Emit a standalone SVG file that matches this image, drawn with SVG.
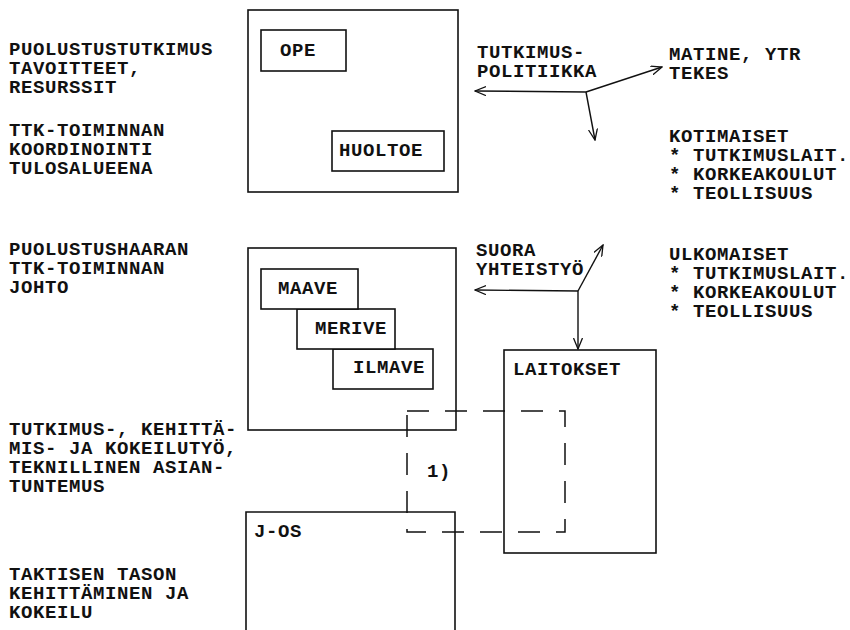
<svg xmlns="http://www.w3.org/2000/svg" width="850" height="630" viewBox="0 0 850 630">
<defs>
<style>
text{font-family:"Liberation Mono","Courier New",monospace;font-weight:bold;font-size:19px;letter-spacing:0.6px;fill:#111}
.box{fill:none;stroke:#111;stroke-width:1.6}
.wbox{fill:#fff;stroke:#111;stroke-width:1.6}
.con{fill:none;stroke:#111;stroke-width:1.4}
.dash{fill:none;stroke:#111;stroke-width:1.5;stroke-dasharray:22 16}
</style>
<marker id="ah" viewBox="0 0 12 10" refX="11" refY="5" markerWidth="12" markerHeight="10" markerUnits="userSpaceOnUse" orient="auto">
<path d="M0,0.5 L11,5 L0,9.5" fill="none" stroke="#111" stroke-width="1.3"/>
</marker>
</defs>
<rect width="850" height="630" fill="#fff"/>

<g id="labels-left">
<text x="9" y="55">PUOLUSTUSTUTKIMUS</text>
<text x="9" y="74">TAVOITTEET,</text>
<text x="9" y="93">RESURSSIT</text>
<text x="9" y="136">TTK-TOIMINNAN</text>
<text x="9" y="155">KOORDINOINTI</text>
<text x="9" y="174">TULOSALUEENA</text>
<text x="9" y="255">PUOLUSTUSHAARAN</text>
<text x="9" y="274">TTK-TOIMINNAN</text>
<text x="9" y="293">JOHTO</text>
<text x="9" y="435">TUTKIMUS-, KEHITTÄ-</text>
<text x="9" y="454">MIS- JA KOKEILUTYÖ,</text>
<text x="9" y="473">TEKNILLINEN ASIAN-</text>
<text x="9" y="492">TUNTEMUS</text>
<text x="9" y="580">TAKTISEN TASON</text>
<text x="9" y="599">KEHITTÄMINEN JA</text>
<text x="9" y="618">KOKEILU</text>
</g>

<g id="labels-right">
<text x="669" y="60">MATINE, YTR</text>
<text x="669" y="79">TEKES</text>
<text x="669" y="142">KOTIMAISET</text>
<text x="669" y="161">* TUTKIMUSLAIT.</text>
<text x="669" y="180">* KORKEAKOULUT</text>
<text x="669" y="199">* TEOLLISUUS</text>
<text x="669" y="260">ULKOMAISET</text>
<text x="669" y="279">* TUTKIMUSLAIT.</text>
<text x="669" y="298">* KORKEAKOULUT</text>
<text x="669" y="317">* TEOLLISUUS</text>
<text x="477" y="58">TUTKIMUS-</text>
<text x="477" y="77">POLITIIKKA</text>
<text x="476" y="256">SUORA</text>
<text x="476" y="275">YHTEISTYÖ</text>
</g>

<g id="pe">
<rect class="box" x="248" y="10" width="210" height="182"/>
</g>
<g id="ope">
<rect class="box" x="261" y="30" width="85" height="41"/>
<text x="280" y="56">OPE</text>
</g>
<g id="huoltoe">
<rect class="box" x="332" y="131" width="112" height="40"/>
<text x="339" y="156">HUOLTOE</text>
</g>

<g id="puolustushaara">
<rect class="box" x="248" y="248" width="208" height="182"/>
</g>
<g id="ilmave">
<rect class="wbox" x="333" y="349" width="100" height="40"/>
<text x="353" y="373">ILMAVE</text>
</g>
<g id="merive">
<rect class="wbox" x="297" y="309" width="98" height="40"/>
<text x="315" y="334">MERIVE</text>
</g>
<g id="maave">
<rect class="wbox" x="261" y="269" width="97" height="40"/>
<text x="278" y="294">MAAVE</text>
</g>

<g id="laitokset">
<rect class="box" x="504" y="350" width="152" height="203"/>
<text x="513" y="375">LAITOKSET</text>
</g>

<g id="jos">
<path class="box" d="M246,630 V512 H455 V630"/>
<text x="254" y="537">J-OS</text>
</g>

<g id="yhteinen">
<rect class="dash" x="407" y="411" width="158" height="121"/>
<text x="427" y="477">1)</text>
</g>

<g id="connectors">
<path class="con" d="M586,92 L475,91" marker-end="url(#ah)"/>
<path class="con" d="M586,92 L662,67" marker-end="url(#ah)"/>
<path class="con" d="M586,92 L595,140" marker-end="url(#ah)"/>
<path class="con" d="M578,291 L475,290" marker-end="url(#ah)"/>
<path class="con" d="M578,291 L603,245" marker-end="url(#ah)"/>
<path class="con" d="M578,291 L578,349" marker-end="url(#ah)"/>
</g>
</svg>
